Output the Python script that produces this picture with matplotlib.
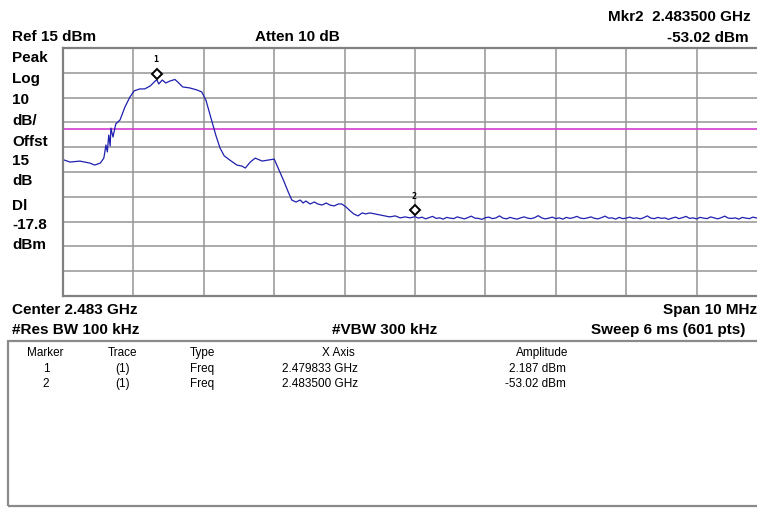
import numpy as np
from matplotlib import pyplot as plt

# trace (MHz, dBm)
shape_mhz = [2478.50, 2478.60, 2478.74, 2478.88, 2478.95, 2479.03, 2479.08, 2479.11, 2479.13,
             2479.15, 2479.17, 2479.18, 2479.21, 2479.25, 2479.31, 2479.38, 2479.45, 2479.51,
             2479.59, 2479.66, 2479.74, 2479.81, 2479.833, 2479.86, 2479.91, 2479.96, 2480.02,
             2480.09, 2480.13, 2480.20, 2480.30, 2480.40, 2480.47, 2480.53, 2480.59, 2480.63,
             2480.67, 2480.73, 2480.79, 2480.87, 2480.97, 2481.04, 2481.09, 2481.16, 2481.23,
             2481.33, 2481.41, 2481.50, 2481.55, 2481.63, 2481.70, 2481.75, 2481.81, 2481.87,
             2481.91, 2481.95, 2482.01, 2482.07, 2482.12, 2482.18, 2482.24, 2482.29, 2482.35,
             2482.41, 2482.46, 2482.52, 2482.58, 2482.63, 2482.69, 2482.75, 2482.80, 2482.86,
             2482.93, 2483.00, 2483.07, 2483.14, 2483.22, 2483.29, 2483.36, 2483.43, 2483.50]
shape_dbm = [-30.0, -31.0, -30.6, -31.4, -32.2, -31.4, -29.4, -24.1, -26.9,
             -20.1, -24.5, -17.3, -20.9, -15.6, -14.0, -8.8, -4.8, -2.3,
             -1.5, -1.5, -0.3, 1.7, 2.187, 0.5, 2.1, 0.9, 1.7,
             2.3, 1.3, -0.7, -1.1, -1.9, -2.7, -6.0, -12.0, -16.0,
             -20.1, -25.3, -28.5, -30.2, -32.2, -32.6, -33.4, -31.0, -29.4,
             -30.6, -30.2, -29.8, -33.0, -38.2, -43.1, -46.3, -47.1, -46.3,
             -47.5, -46.7, -47.9, -47.1, -47.9, -48.3, -47.5, -48.3, -48.7,
             -47.9, -47.9, -49.1, -50.7, -51.9, -52.7, -51.5, -51.9, -51.5,
             -51.9, -52.3, -52.7, -53.1, -52.7, -53.5, -53.1, -53.5, -53.02]
noise_dbm = [-53.6, -53.2, -53.9, -53.4, -52.9, -53.7, -53.5, -54.0, -53.3, -53.6,
             -53.8, -53.1, -53.5, -53.9, -53.4, -52.8, -53.6, -53.7, -54.1, -53.4,
             -53.2, -53.8, -53.5, -52.7, -53.6, -53.9, -53.3, -53.7, -54.0, -53.5,
             -53.1, -53.6, -53.8, -53.4, -52.6, -53.5, -53.9, -53.6, -53.2, -53.8,
             -53.5, -54.0, -53.3, -53.7, -53.4, -52.9, -53.6, -53.8, -53.5, -53.1,
             -53.7, -53.9, -53.4, -52.8, -53.6, -53.5, -54.0, -53.3, -53.8, -53.6,
             -53.2, -53.7, -53.5, -53.9, -53.4, -52.7, -53.6, -53.8, -53.3, -53.7,
             -53.5, -54.1, -53.6, -53.2, -53.8, -53.4, -52.9, -53.7, -53.5, -53.9,
             -53.3, -53.6, -53.8, -53.1, -53.5, -53.9, -53.4, -52.8, -53.6, -53.7,
             -53.5, -54.0, -53.3, -53.6, -53.8, -53.2, -53.5, -53.9, -53.4, -53.6]
noise_mhz = np.linspace(2483.55, 2488.50, len(noise_dbm))

markers_mhz = [2479.833, 2483.500]
markers_dbm = [2.187, -53.02]
display_line = -17.8
ref_level = 15
start_mhz, stop_mhz = 2478.5, 2488.5

side_labels = ["Peak", "Log", "10", "dB/", "Offst", "15", "dB", "Dl", "-17.8", "dBm"]
side_y = [58, 79, 100, 121, 142, 161, 181, 206, 225, 245]

table_rows = [["1", "(1)", "Freq", "2.479833 GHz", "2.187 dBm"],
              ["2", "(1)", "Freq", "2.483500 GHz", "-53.02 dBm"]]

W, H = 757, 509
BOLD = dict(family=["Liberation Sans Narrow", "Liberation Sans", "DejaVu Sans"],
            fontweight="bold", fontsize=11)
REG = dict(family=["Liberation Sans", "DejaVu Sans"], fontsize=8.5)

fig = plt.figure(figsize=(W / 100, H / 100), dpi=100)
fig.patch.set_facecolor("white")

def fx(px):
    return px / W

def fy(py):
    return 1 - py / H

# graticule, right edge runs past the picture
ax = fig.add_axes([fx(63), fy(296), 704 / W, 248 / H])
ax.set_xlim(start_mhz, stop_mhz)
ax.set_ylim(ref_level - 100, ref_level)
ax.set_xticks(np.linspace(start_mhz, stop_mhz, 11))
ax.set_yticks(np.arange(ref_level - 100, ref_level + 1, 10))
ax.grid(True, color="#959595", lw=1.1)
ax.tick_params(length=0, labelbottom=False, labelleft=False)
for s in ax.spines.values():
    s.set_color("#808080")
    s.set_linewidth(1.6)

ax.axhline(display_line, color="#d23cd2", lw=1.2)
ax.plot(list(shape_mhz) + list(noise_mhz), list(shape_dbm) + list(noise_dbm),
        color="#1f1fb0", lw=0.9)

# marker diamonds sit just above the trace point
shift = plt.matplotlib.transforms.ScaledTranslation(0, 4.5 / 72, fig.dpi_scale_trans)
for i, (mx, my) in enumerate(zip(markers_mhz, markers_dbm)):
    ax.plot(mx, my, marker="D", ms=5.5, mfc="white", mec="black", mew=1.4,
            linestyle="none", zorder=5, transform=ax.transData + shift)
    ax.annotate(str(i + 1), (mx, my), xytext=(-1, 11), textcoords="offset points",
                ha="center", va="bottom", fontsize=6, family="DejaVu Sans Mono",
                fontweight="bold")

# header texts
fig.text(fx(12), fy(37), "Ref 15 dBm", va="center", ha="left", **BOLD)
fig.text(fx(255), fy(37), "Atten 10 dB", va="center", ha="left", **BOLD)
fig.text(fx(751), fy(17), "Mkr2  2.483500 GHz", va="center", ha="right", **BOLD)
fig.text(fx(749), fy(38), "-53.02 dBm", va="center", ha="right", **BOLD)
for lab, yy in zip(side_labels, side_y):
    fig.text(fx(12), fy(yy), lab, va="center", ha="left", **BOLD)

fig.text(fx(12), fy(310), "Center 2.483 GHz", va="center", ha="left", **BOLD)
fig.text(fx(757), fy(310), "Span 10 MHz", va="center", ha="right", **BOLD)
fig.text(fx(12), fy(330), "#Res BW 100 kHz", va="center", ha="left", **BOLD)
fig.text(fx(385), fy(330), "#VBW 300 kHz", va="center", ha="center", **BOLD)
fig.text(fx(745), fy(330), "Sweep 6 ms (601 pts)", va="center", ha="right", **BOLD)

# marker table
box = plt.Rectangle((fx(8), fy(506)), fx(760), 165 / H, transform=fig.transFigure,
                    fill=False, ec="#8a8a8a", lw=1.6)
fig.patches.append(box)
fig.text(fx(45), fy(353), "Marker", ha="center", va="center", **REG)
fig.text(fx(123), fy(353), "Trace", ha="center", va="center", **REG)
fig.text(fx(190), fy(353), "Type", ha="left", va="center", **REG)
fig.text(fx(338), fy(353), "X Axis", ha="center", va="center", **REG)
fig.text(fx(542), fy(353), "Amplitude", ha="center", va="center", **REG)
for row, yy in zip(table_rows, [369, 384]):
    fig.text(fx(46), fy(yy), row[0], ha="center", va="center", **REG)
    fig.text(fx(123), fy(yy), row[1], ha="center", va="center", **REG)
    fig.text(fx(190), fy(yy), row[2], ha="left", va="center", **REG)
    fig.text(fx(282), fy(yy), row[3], ha="left", va="center", **REG)
    fig.text(fx(566), fy(yy), row[4], ha="right", va="center", **REG)

fig.savefig("out.png", dpi=100)
